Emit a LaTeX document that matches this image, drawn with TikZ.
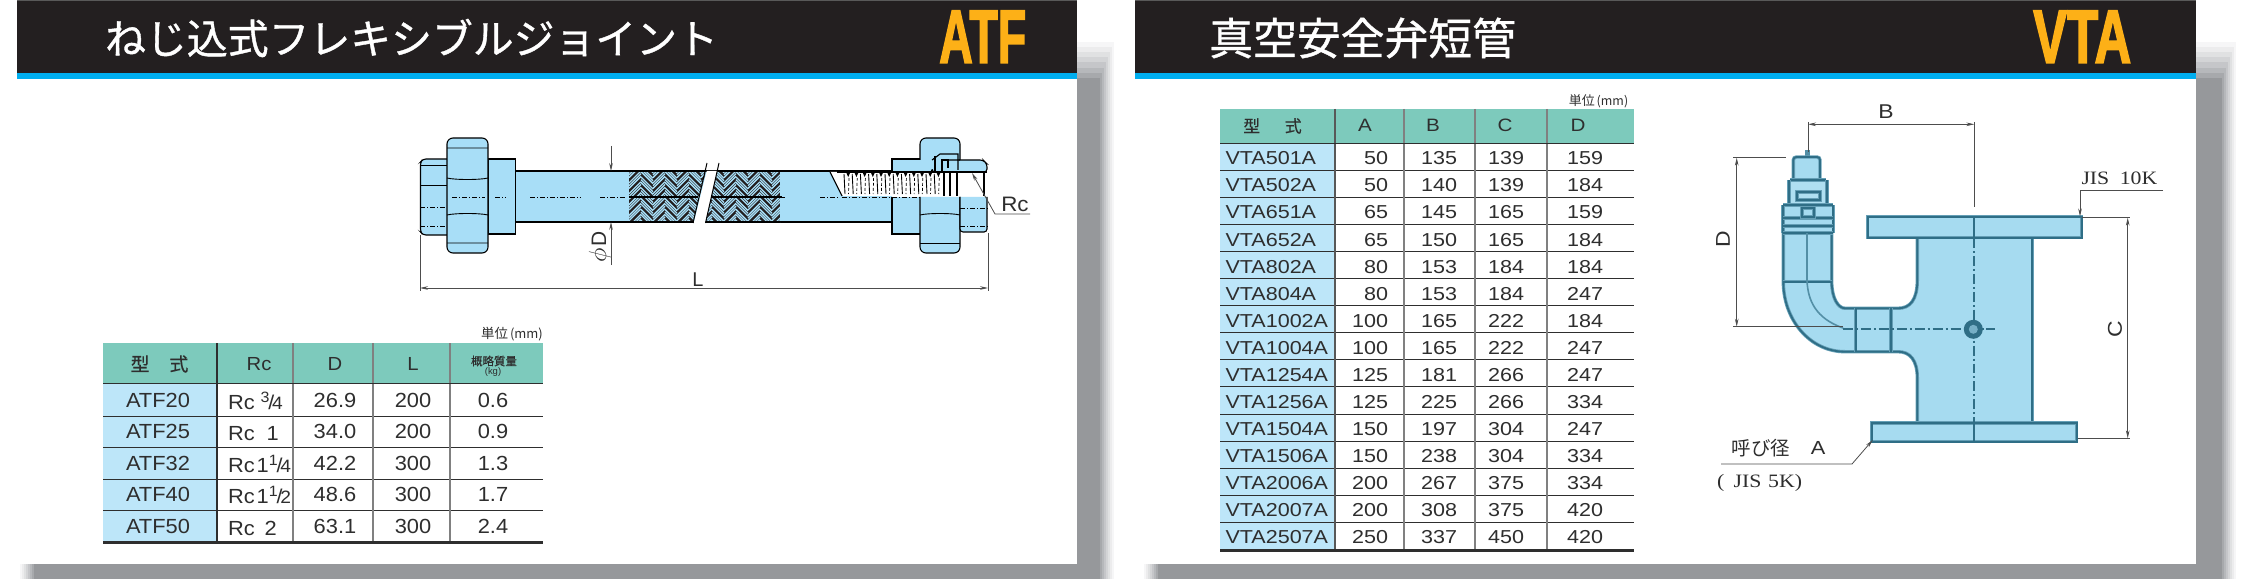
\documentclass[tikz,border=0pt]{standalone}
\usepackage{fontspec}
\usepackage{graphicx}
\usetikzlibrary{arrows.meta}
\setmainfont{Liberation Sans}
\newfontfamily\cjk{Noto Sans CJK JP}
\newfontfamily\cjkt[FakeBold=0.9]{Noto Sans CJK JP}
\newfontfamily\cjkm[FakeBold=0.4]{Noto Sans CJK JP}
\newfontfamily\lsans[FakeStretch=1.07]{Liberation Sans}
\newfontfamily\wsans[FakeStretch=1.15]{Liberation Sans}
\newfontfamily\jisf[FakeStretch=1.15]{Liberation Serif}
\newfontfamily\tagf{Liberation Sans}[UprightFont=* Bold,FakeBold=2.5]
\newcommand{\fs}[1]{\fontsize{#1}{#1}\selectfont}
\newcommand{\fr}[2]{\raisebox{.32em}{\fs{15}#1}\kern-.06em{\fs{20}/}\kern-.1em{\fs{18}#2}}
\definecolor{hd}{HTML}{7DCABC}
\definecolor{lc}{HTML}{BDE6F9}
\definecolor{pipe}{HTML}{A8DEF7}
\definecolor{ink}{HTML}{2E2E2E}
\definecolor{gl}{HTML}{808080}
\definecolor{shd}{HTML}{96989B}
\definecolor{dk}{HTML}{231F20}
\definecolor{vl}{HTML}{2F6E86}
\definecolor{vb}{HTML}{A6DBF0}
\definecolor{bar}{HTML}{00AEEF}
\definecolor{tagc}{HTML}{FDB017}
\tikzset{
 tx/.style={inner sep=0pt,outer sep=0pt,text=ink,anchor=base},
 dim/.style={draw=ink!85,line width=.8pt},
 dima/.style={dim,{Stealth[length=8pt,width=3.6pt]}-{Stealth[length=8pt,width=3.6pt]}},
 dimb/.style={dim,-{Stealth[length=8pt,width=3.6pt]}},
 part/.style={draw=black,fill=pipe,line width=1.1pt},
 cham/.style={draw=black,line width=.9pt},
 dsh/.style={draw=black,line width=1pt,dash pattern=on 5pt off 2pt on 1pt off 2pt},
 vln/.style={draw=vl,line width=1.8pt,preaction={draw=vl!55!vb,line width=3.4pt}},
}
\newcommand{\shadowrect}[4]{%
 \foreach \e/\o in {14/.08,12/.1,10/.13,8/.17,6/.22,4/.3,2/.45,0/1}{
  \fill[shd,opacity=\o] (#1-\e,#2-2.6*\e) rectangle (#3+\e,#4+\e);}}
\newcommand{\braid}[2]{%
 \foreach \c in {0,...,12}{
  \pgfmathsetmacro{\xa}{#2+\c*12}
  \pgfmathsetmacro{\xb}{\xa+12}
  \pgfmathtruncatemacro{\odd}{mod(\c,2)}
  \foreach \k in {-12,...,24}{
   \pgfmathtruncatemacro{\skipit}{mod(\k+12,4)==3}
   \ifnum\skipit=0
    \pgfmathsetmacro{\ya}{#1+\k*2.7+6*\odd}
    \ifnum\odd=0
     \draw[pipe,line width=1.3pt] (\xa,\ya+12) -- (\xb,\ya);
    \else
     \draw[pipe,line width=1.3pt] (\xa,\ya) -- (\xb,\ya+12);
    \fi
   \fi
  }
 }}
\begin{document}
\begin{tikzpicture}[x=1bp,y=-1bp]
\useasboundingbox (0,0) rectangle (2247,579);
\fill[white] (0,0) rectangle (2247,579);
% ---- shadows
\shadowrect{34}{78}{1100}{580}
\shadowrect{1158}{78}{2222}{580}
% ---- panels
\fill[white] (17,0) rectangle (1077,564);
\fill[white] (1135,0) rectangle (2196,564);
\fill[dk] (17,0) rectangle (1077,73);
\fill[dk] (1135,0) rectangle (2196,73);
\fill[black!65] (17,0) rectangle (1077,1);
\fill[black!65] (1135,0) rectangle (2196,1);
\fill[bar] (17,73) rectangle (1077,79);
\fill[bar] (1135,73) rectangle (2196,79);
% ---- titles
\node[inner sep=0pt,text=white,anchor=west] (titleL) at (106,38) {\cjkt\fs{41}\kern-1pt ねじ込式フレキシブルジョイント};
\node[inner sep=0pt,text=white,anchor=west] (titleR) at (1209,38) {\cjkt\fs{44}真空安全弁短管};
\node[inner sep=0pt,anchor=south west,text=tagc] (tagL) at (939,63) {\resizebox{87bp}{52bp}{\tagf ATF}};
\node[inner sep=0pt,anchor=south west,text=tagc] (tagR) at (2033,63) {\resizebox{98bp}{52bp}{\tagf VTA}};

% ====== left table
\fill[hd] (103,343) rectangle (543,383);
\fill[lc] (103,383) rectangle (217,542);
\foreach \y in {416,447,479,510}{\draw[ink,line width=.9pt] (103,\y) -- (543,\y);}
\foreach \x in {293,373,450}{\draw[gl,line width=1.1pt] (\x,343) -- (\x,542);}
\draw[ink,line width=1.2pt] (217,343) -- (217,542);
\draw[ink,line width=2pt] (103,383.5) -- (543,383.5);
\draw[ink,line width=3pt] (103,542.5) -- (543,542.5);
\node[tx,anchor=center] (lh1) at (159.5,364) {\cjkm\fs{19}型\hspace{1.05em}式};
\node[tx] (lh2) at (259,370) {\lsans\fs{19}Rc};
\node[tx] (lh3) at (335,370) {\lsans\fs{19}D};
\node[tx] (lh4) at (413,370) {\lsans\fs{19}L};
\node[tx,anchor=center] (lh5) at (494,361) {\cjkm\fs{11.5}概略質量};
\node[tx,anchor=center] (lh6) at (493,372) {\fs{9.5}(kg)};
\node[tx,anchor=center] (lu) at (512,334) {\cjk\fs{13.5}単位\kern2pt{\fs{13}(mm)}};
\foreach \m/\r/\d/\l/\w [count=\i] in {
 ATF20/{Rc\kern6pt\fr{3}{4}}/26.9/200/0.6,
 ATF25/{Rc\kern12pt 1}/34.0/200/0.9,
 ATF32/{Rc\kern2pt 1\fr{1}{4}}/42.2/300/1.3,
 ATF40/{Rc\kern2pt 1\fr{1}{2}}/48.6/300/1.7,
 ATF50/{Rc\kern10pt 2}/63.1/300/2.4}{
 \pgfmathsetmacro{\yb}{407+31.5*(\i-1)}
 \node[tx] (lm\i) at (158,\yb) {\lsans\fs{20.5}\m};
 \node[tx,anchor=base west] (lr\i) at (228,\yb+2) {\lsans\fs{20.5}\r};
 \node[tx] (ld\i) at (335,\yb) {\lsans\fs{20.5}\d};
 \node[tx] (ll\i) at (413,\yb) {\lsans\fs{20.5}\l};
 \node[tx] (lw\i) at (493,\yb) {\lsans\fs{20.5}\w};
}

% ====== right table
\fill[hd] (1220,109) rectangle (1634,143);
\fill[lc] (1220,143) rectangle (1335,550);
\foreach \i in {1,...,14}{
 \pgfmathsetmacro{\yy}{143+27.1*\i}
 \draw[ink,line width=.9pt] (1220,\yy) -- (1634,\yy);}
\foreach \x in {1404,1475,1547}{\draw[gl,line width=1.1pt] (\x,109) -- (\x,550);}
\draw[ink!80,line width=1.1pt] (1335,109) -- (1335,550);
\draw[ink,line width=1.8pt] (1220,143.5) -- (1634,143.5);
\draw[ink,line width=2.8pt] (1220,550.5) -- (1634,550.5);
\node[tx,anchor=center] (rh1) at (1272.5,126) {\cjkm\fs{17}型\hspace{1.45em}式};
\node[tx] (rh2) at (1365,132) {\wsans\fs{18}A};
\node[tx] (rh3) at (1433,132) {\wsans\fs{18}B};
\node[tx] (rh4) at (1505,132) {\wsans\fs{18}C};
\node[tx] (rh5) at (1578,132) {\wsans\fs{18}D};
\node[tx,anchor=center] (ru) at (1598.5,101) {\cjk\fs{13}単位\kern2pt{\fs{12.5}(mm)}};
\foreach \m/\a/\b/\c/\d [count=\i] in {
 VTA501A/50/135/139/159,VTA502A/50/140/139/184,VTA651A/65/145/165/159,
 VTA652A/65/150/165/184,VTA802A/80/153/184/184,VTA804A/80/153/184/247,
 VTA1002A/100/165/222/184,VTA1004A/100/165/222/247,VTA1254A/125/181/266/247,
 VTA1256A/125/225/266/334,VTA1504A/150/197/304/247,VTA1506A/150/238/304/334,
 VTA2006A/200/267/375/334,VTA2007A/200/308/375/420,VTA2507A/250/337/450/420}{
 \pgfmathsetmacro{\yb}{165+27*(\i-1)}
 \node[tx,anchor=base west] (rm\i) at (1225.5,\yb) {\wsans\fs{18.8}\m};
 \node[tx,anchor=base east] (ra\i) at (1388,\yb) {\wsans\fs{18.8}\a};
 \node[tx,anchor=base east] (rb\i) at (1457,\yb) {\wsans\fs{18.8}\b};
 \node[tx,anchor=base east] (rc\i) at (1524,\yb) {\wsans\fs{18.8}\c};
 \node[tx,anchor=base east] (rd\i) at (1603,\yb) {\wsans\fs{18.8}\d};
}

% ====== flexible joint (left drawing)
\fill[pipe] (515.5,171) rectangle (892,222);
\draw[black,line width=1.1pt] (515.5,171) -- (892,171) (515.5,222) -- (892,222);
\draw[black,line width=2pt] (515.5,222) -- (530,222);
% braid
\begin{scope}
\clip (629,171) -- (706,171) -- (693,222) -- (629,222) -- cycle;
\fill[dk] (629,171) rectangle (720,222);
\braid{171}{629}
\end{scope}
\begin{scope}
\clip (718,171) -- (780.5,171) -- (780.5,222) -- (706,222) -- cycle;
\fill[dk] (700,171) rectangle (781,222);
\braid{171}{700}
\end{scope}
\draw[black,line width=2.2pt] (629,197) -- (698,197) (710,197) -- (782,197);
\draw[black,line width=1.1pt] (629,171) -- (706,171) (718,171) -- (780,171) (629,222) -- (693,222) (706,222) -- (780,222);
% break
\fill[white] (706.8,171) -- (717.2,171) -- (705.2,223) -- (693.8,223) -- cycle;
\draw[black,line width=1pt] (707,163) -- (693,223) (719,163) -- (705.5,223);
% left end
\draw[part,rounded corners=3pt] (447,159) -- (423,159) -- (420.5,162) -- (420.5,232) -- (423,235) -- (447,235);
\draw[part] (488,159) rectangle (515.5,234);
\draw[part,rounded corners=6pt] (447,138) rectangle (488,253);
\draw[cham] (447,148) -- (488,148) (447,178) .. controls (455,180) and (480,180) .. (488,178)
 (447,215) .. controls (455,213) and (480,213) .. (488,215) (447,243) -- (488,243);
\draw[cham] (420.5,185) -- (447,185) (420.5,165) -- (447,165);
\draw[dsh] (420.5,207) -- (447,207) (420.5,226) -- (447,226);
\draw[dsh] (452,197) -- (485,197) (495,197) -- (505,197) (530,197) -- (580,197) (600,197) -- (625,197) (780,197) -- (786,197) (820,197) -- (838,197);
% right end
\fill[white] (830,172) -- (988,172) -- (988,196) -- (842,196) -- cycle;
\draw[part] (892,159) rectangle (932,172);
\fill[pipe] (892,197) rectangle (920,234);
\draw[black,line width=1.1pt] (892,197) -- (892,234) -- (920,234);
\fill[pipe,rounded corners=5pt] (920,138) -- (920,170) -- (960,170) -- (960,138) -- cycle;
\draw[black,line width=1.1pt,rounded corners=6pt] (920,160) -- (920,138) -- (960,138) -- (960,160);
\fill[pipe] (921,197) rectangle (960,246);
\draw[part,rounded corners=6pt] (920,197) -- (920,253) -- (960,253) -- (960,197);
\draw[cham] (920,243) -- (960,243);
\draw[cham] (920,215) .. controls (928,213) and (952,213) .. (960,215);
\draw[part,rounded corners=3pt] (960,197) -- (960,232) -- (987,232) -- (987,197);
\draw[dsh] (960,208) -- (987,208) (960,226) -- (987,226);
\draw[part,rounded corners=3pt] (932,172) -- (932,160) -- (983,160) -- (987,164) -- (987,172) -- cycle;
\fill[pipe] (926,155) rectangle (959,169);
\draw[black,line width=1.1pt] (960,160) -- (945,160) (932,160) -- (940,154) -- (958,154) -- (958,170);
\draw[black,line width=1.2pt] (935,156) -- (935,172) -- (942,172) -- (942,160) -- (948,160) -- (948,168);
\draw[black,line width=1.1pt] (945,172) -- (987,172) (944,173) -- (944,196) (950,173) -- (950,196) (957,173) -- (957,196) (984,173) -- (984,196);
% thread teeth
\draw[black,line width=2.2pt] (837,172) -- (945,172);
\foreach \i in {0,...,11}{
 \pgfmathsetmacro{\tx}{844+\i*8.2}
 \draw[black,line width=.9pt] (\tx,174) -- (\tx+1,194);
 \fill[black] (\tx+2,172) -- (\tx+6.5,172) -- (\tx+4.2,177) -- cycle;
 \draw[black,line width=.7pt,dash pattern=on 3pt off 2pt] (\tx+5,178) -- (\tx+4.5,194);
}
\draw[black,line width=1.1pt] (830,172) -- (842,196);
\draw[dsh] (842,197) -- (920,197);
% dimensions
\coordinate (dT) at (611,146); \coordinate (dA) at (611,171);
\coordinate (dB) at (611,222); \coordinate (dE) at (611,265);
\draw[dimb] (dT) -- (dA);
\draw[dimb] (dE) -- (dB);
\node[tx,anchor=center,rotate=90] (phiD) at (600,247) {\fs{24}$\phi$\fs{21}\kern1pt D};
\coordinate (lA) at (420,288); \coordinate (lB) at (988,288);
\coordinate (lA0) at (420,235); \coordinate (lA1) at (420,291);
\coordinate (lB0) at (988,233); \coordinate (lB1) at (988,291);
\draw[dim] (lA0) -- (lA1) (lB0) -- (lB1);
\draw[dima] (lA) -- (lB);
\node[tx,anchor=center] (Ltxt) at (698,280) {\fs{20}L};
\node[tx,anchor=center] (Rctxt) at (1015,204) {\lsans\fs{21}Rc};
\coordinate (rc0) at (1030,214); \coordinate (rc1) at (995,214); \coordinate (rc2) at (972,173);
\draw[dimb] (rc0) -- (rc1) -- (rc2);

% ====== vacuum relief valve (right drawing)
\path[fill=vb] (1917.3,237.7) -- (1917.3,280) .. controls (1917.3,300) and (1910,308.3) .. (1898,308.3)
 -- (1845,308.3) .. controls (1838,308.3) and (1831.7,298) .. (1831.7,281.7) -- (1831.7,233) -- (1783.3,233)
 -- (1783.3,281.7) .. controls (1783.3,320) and (1810,351.7) .. (1845,351.7) -- (1898,351.7)
 .. controls (1910,351.7) and (1917.3,360) .. (1917.3,378) -- (1917.3,423) -- (2032.3,423) -- (2032.3,237.7) -- cycle;
\draw[vln] (1917.3,237.7) -- (1917.3,280) .. controls (1917.3,300) and (1910,308.3) .. (1898,308.3)
 -- (1845,308.3) .. controls (1838,308.3) and (1831.7,298) .. (1831.7,281.7) -- (1831.7,233);
\draw[vln] (1783.3,233) -- (1783.3,281.7) .. controls (1783.3,320) and (1810,351.7) .. (1845,351.7) -- (1898,351.7)
 .. controls (1910,351.7) and (1917.3,360) .. (1917.3,378) -- (1917.3,423);
\draw[vln] (2032.3,237.7) -- (2032.3,423);
\draw[vln] (1783.3,281.7) -- (1831.7,281.7);
\draw[vln] (1855.7,308.3) -- (1855.7,351.7) (1891,308.3) -- (1891,351.7);
% flanges
\fill[vb] (1867.7,216.7) rectangle (2081.7,237.7);
\draw[vln] (1867.7,216.7) rectangle (2081.7,237.7);
\fill[vb] (1871.7,423) rectangle (2076.7,441.7);
\draw[vln] (1871.7,423) rectangle (2076.7,441.7);
% valve stack
\fill[vl!70!vb] (1805,150) rectangle (1810,157);
\fill[vb] (1793.3,157) rectangle (1820,180);
\fill[vb!90!white] (1788.3,180) rectangle (1828.3,205);
\fill[vb] (1783.3,205) rectangle (1833.3,233);
\draw[vln,rounded corners=3pt] (1793.3,180) -- (1793.3,157) -- (1820,157) -- (1820,180);
\draw[vln] (1790,180) -- (1826,180);
\draw[vln] (1789,180) -- (1789,205) (1827,180) -- (1827,205);
\draw[vln] (1797,192) rectangle (1820,200);
\draw[vln] (1783,205) -- (1833.3,205) (1783,205) -- (1783,233) (1833.3,205) -- (1833.3,233);
\draw[vln] (1783,218) -- (1833,218) (1783,226) -- (1833,226) (1783,233) -- (1833,233);
\draw[vln] (1802,208) rectangle (1814,217);
\draw[vl!70!vb,line width=1.6pt] (1807,233) -- (1807,281) .. controls (1808,300) and (1815,318) .. (1843,328);
% centre lines
\draw[vl,line width=1.8pt] (1974,217) -- (1974,238);
\draw[vl,line width=1.8pt,dash pattern=on 10pt off 3pt on 2pt off 3pt] (1974,238) -- (1974,423);
\draw[vl,line width=1.8pt] (1974,423) -- (1974,442);
\draw[vl,line width=1.6pt,dash pattern=on 10pt off 3pt on 2pt off 3pt] (1843,329) -- (1995,329);
\fill[vl] (1973.3,329.3) circle[radius=9.5bp];
\fill[vb!60!vl] (1973.3,329.3) circle[radius=4.5bp];
% dimensions
\coordinate (bA) at (1808,124.3); \coordinate (bB) at (1974.3,124.3);
\coordinate (bA0) at (1808,122); \coordinate (bA1) at (1808,152);
\coordinate (bB0) at (1974.3,122); \coordinate (bB1) at (1974.3,207);
\draw[dim] (bA0) -- (bA1) (bB0) -- (bB1);
\draw[dima] (bA) -- (bB);
\node[tx,anchor=center] (Btxt) at (1886,112) {\wsans\fs{20}B};
\coordinate (dA1) at (1736.7,157.7); \coordinate (dA2) at (1736.7,326.7);
\coordinate (dE1) at (1733,157.7); \coordinate (dE2) at (1786,157.7);
\coordinate (dE3) at (1733,326.7); \coordinate (dE4) at (1843,326.7);
\draw[dim] (dE1) -- (dE2) (dE3) -- (dE4);
\draw[dima] (dA1) -- (dA2);
\node[tx,anchor=center,rotate=90] (Dtxt) at (1723,239) {\wsans\fs{20}D};
\coordinate (cA1) at (2127.7,217.7); \coordinate (cA2) at (2127.7,438.3);
\coordinate (cE1) at (2081.7,217.2); \coordinate (cE2) at (2130,217.2);
\coordinate (cE3) at (2078,438.7); \coordinate (cE4) at (2130,438.7);
\draw[dim] (cE1) -- (cE2) (cE3) -- (cE4);
\draw[dima] (cA1) -- (cA2);
\node[tx,anchor=center,rotate=90] (Ctxt) at (2115,329) {\wsans\fs{20}C};
\node[tx,anchor=base west] (jis10) at (2081.5,185) {\jisf\fs{19}JIS\hspace{.55em}10K};
\coordinate (j0) at (2163,190); \coordinate (j1) at (2080,190); \coordinate (j2) at (2080,216.5);
\draw[dimb] (j0) -- (j1) -- (j2);
\node[tx,anchor=center] (yobi) at (1761,448) {\cjk\fs{19.5}呼び径};
\node[tx,anchor=center] (Aval) at (1818,448) {\wsans\fs{19}A};
\coordinate (y0) at (1721,464); \coordinate (y1) at (1852,464); \coordinate (y2) at (1872.7,440);
\draw[dimb] (y0) -- (y1) -- (y2);
\node[tx,anchor=base west] (jis5) at (1717,487.5) {\jisf\fs{19}(\hspace{.5em}JIS\hspace{.35em}5K)};
\end{tikzpicture}
\end{document}
